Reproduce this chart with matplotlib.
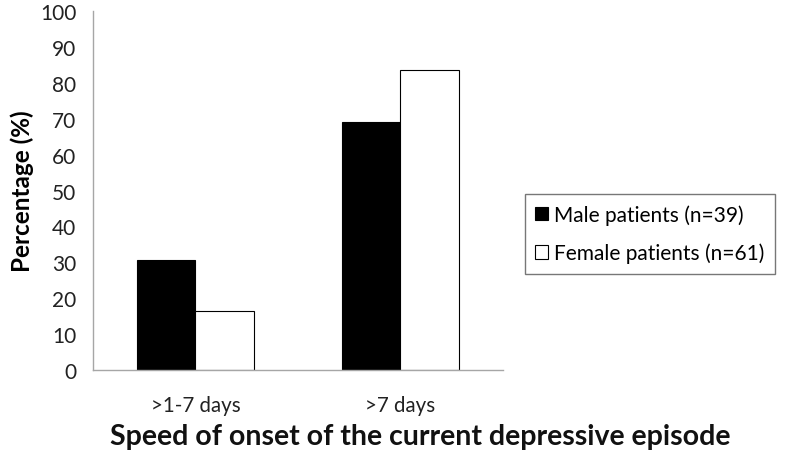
import matplotlib
matplotlib.use("Agg")
import matplotlib.pyplot as plt
import numpy as np

categories = [">1-7 days", ">7 days"]
male = [30.8, 69.2]
female = [16.4, 83.6]
series_labels = ["Male patients (n=39)", "Female patients (n=61)"]
yticks = list(range(0, 101, 10))

plt.rcParams["font.family"] = ["Lato", "DejaVu Sans"]

fig = plt.figure(figsize=(7.87, 4.56), dpi=100)
ax = fig.add_axes([0.118, 0.186, 0.521, 0.788])

x = np.arange(len(categories))
w = 1 / 3.5
ax.bar(x - w / 2, male, w, color="black", edgecolor="black", linewidth=0.8, label=series_labels[0])
ax.bar(x + w / 2, female, w, color="white", edgecolor="black", linewidth=0.8, label=series_labels[1])

ax.set_xlim(-0.5, 1.5)
ax.set_ylim(0, 100)
ax.set_yticks(yticks)
ax.set_xticks(x)
ax.set_xticklabels(categories)
ax.tick_params(axis="y", length=0, labelsize=15, colors="#222222", pad=12)
ax.tick_params(axis="x", length=0, labelsize=14.8, colors="#222222", pad=18)

for s in ["top", "right"]:
    ax.spines[s].set_visible(False)
for s in ["left", "bottom"]:
    ax.spines[s].set_color("#a6a6a6")
    ax.spines[s].set_linewidth(1.0)

ax.set_ylabel("Percentage (%)", fontsize=17.5, fontweight="bold", labelpad=4)
# x title sits right of the axes centre in the original
fig.text(420 / 787, 1 - 437 / 456, "Speed of onset of the current depressive episode",
         fontsize=20.5, fontweight="bold", ha="center", va="center", color="#111111")

leg = fig.legend(loc="center left", bbox_to_anchor=(0.667, 0.485), fontsize=15,
                 frameon=True, fancybox=False, edgecolor="#555555",
                 handlelength=0.6, handleheight=0.6, handletextpad=0.3,
                 labelspacing=0.85, borderpad=0.5, borderaxespad=0)
leg.get_frame().set_linewidth(1.0)

fig.savefig("out.png", dpi=100)
